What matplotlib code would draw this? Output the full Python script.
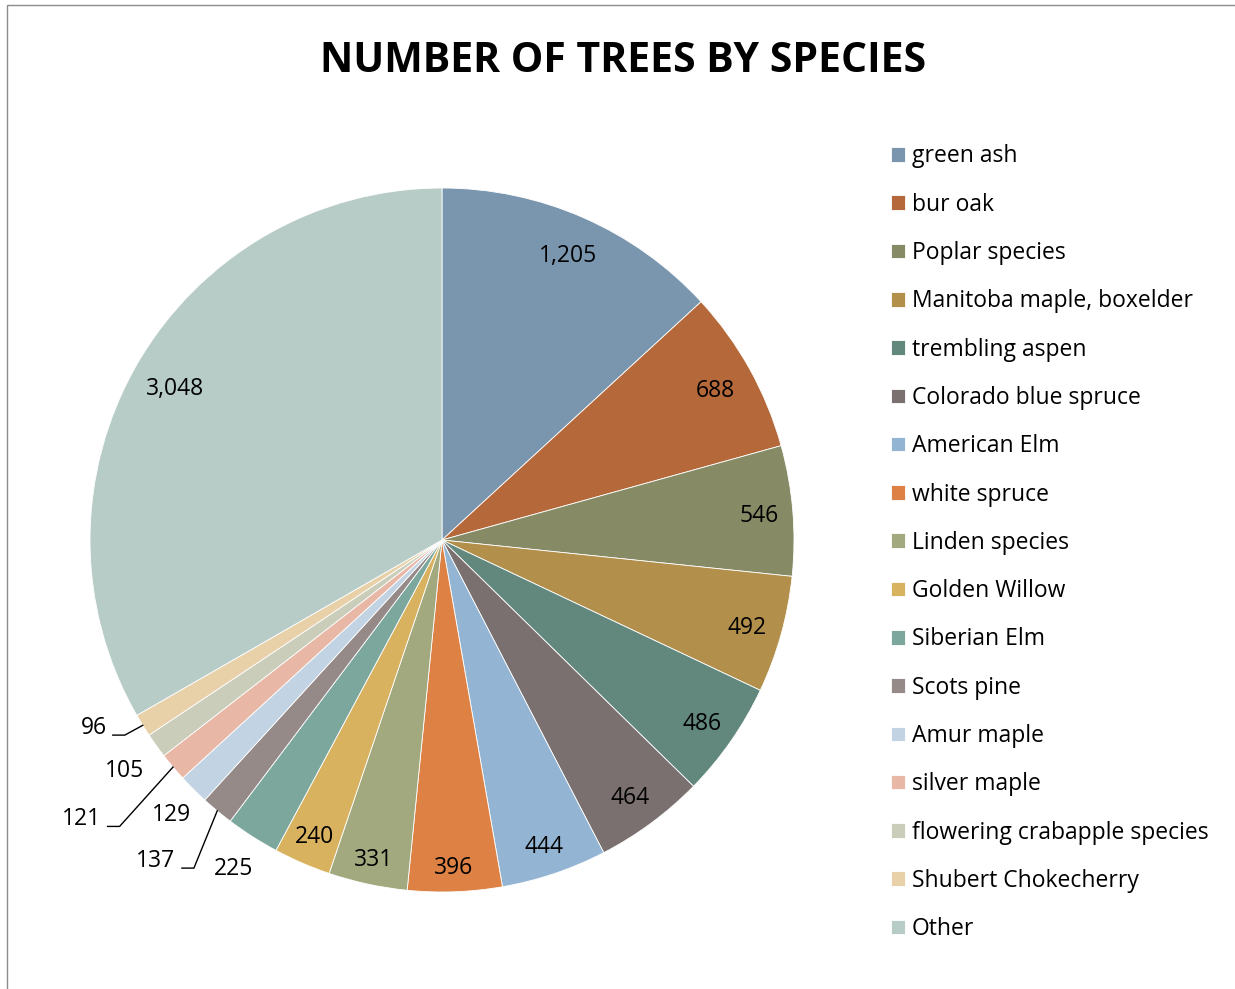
import numpy as np
import matplotlib
matplotlib.use("Agg")
import matplotlib.pyplot as plt
from matplotlib.patches import Rectangle
from matplotlib.transforms import offset_copy

plt.rcParams['font.family'] = ['Open Sans', 'DejaVu Sans']

# data
species = ["green ash", "bur oak", "Poplar species", "Manitoba maple, boxelder",
           "trembling aspen", "Colorado blue spruce", "American Elm", "white spruce",
           "Linden species", "Golden Willow", "Siberian Elm", "Scots pine",
           "Amur maple", "silver maple", "flowering crabapple species",
           "Shubert Chokecherry", "Other"]
counts = [1205, 688, 546, 492, 486, 464, 444, 396, 331, 240, 225, 137,
          129, 121, 105, 96, 3048]
colors = ["#7A96AE", "#B5693A", "#868B65", "#B28F4B", "#62887E", "#7B7070",
          "#93B5D3", "#DD8145", "#A3A97F", "#D8B25E", "#7BA79C", "#968A89",
          "#C2D3E3", "#E8B7A6", "#CACDB9", "#E8D1A9", "#B8CCC7"]

# label placement: radius factor, angle tweak (deg), leader line
lab_r = [0.89, 0.89, 0.905, 0.9, 0.9, 0.9, 0.91, 0.925, 0.92, 0.91, 1.10, 1.215,
         1.09, 1.29, 1.11, 1.12, 0.875]
lab_da = [0, 0, 0, 0, 0, 0, 0, 0, 0, 0, 0, -2.3, 0, -2.7, 0, -3.8, 0]
leader = [False] * 10 + [False, True, False, True, False, True, False]

W, H = 1235, 989
fig = plt.figure(figsize=(W / 100, H / 100), dpi=100)
fig.patches.append(Rectangle((7 / W, -0.01), 1.1, (989 - 5) / H + 0.01,
                             transform=fig.transFigure, fill=False,
                             edgecolor="#8c8c8c", lw=1))

cx, cy, R = 442, 540, 352
ax = fig.add_axes([(cx - R) / W, (H - cy - R) / H, 2 * R / W, 2 * R / H])
wedges, _ = ax.pie(counts, colors=colors, startangle=90, counterclock=False,
                   radius=1, wedgeprops=dict(edgecolor="white", linewidth=0.6))
ax.set_xlim(-1, 1)
ax.set_ylim(-1, 1)
ax.set_aspect("equal")
ax.axis("off")

txt_tr = offset_copy(ax.transData, fig=fig, x=0, y=-3, units="dots")
for w, n, r, da, ld in zip(wedges, counts, lab_r, lab_da, leader):
    mid = np.deg2rad((w.theta1 + w.theta2) / 2)
    a = mid + np.deg2rad(da)
    tx, ty = r * np.cos(a), r * np.sin(a)
    s = f"{n:,}"
    ax.text(tx, ty, s, ha="center", va="center", fontsize=16.5,
            color="black", clip_on=False, transform=txt_tr)
    if ld:
        ex, ey = np.cos(mid), np.sin(mid)
        # leader: short horizontal right of the label, then up to the slice
        hx0 = tx + (len(s) * 7 + 5) / R
        hx1 = hx0 + 12 / R
        hy = ty - 0.029
        ax.plot([ex, hx1, hx0], [ey, hy, hy], color="black", lw=1,
                clip_on=False)

fig.text(623 / W, 1 - 61 / H, "NUMBER OF TREES BY SPECIES", ha="center",
         va="center", fontsize=29.5, fontweight="bold")

fig.legend(wedges, species, loc="upper left", bbox_to_anchor=(880 / W, 1 - 133 / H),
           frameon=False, fontsize=16.5, handlelength=0.6, handleheight=0.6,
           handletextpad=0.3, labelspacing=1.06, borderpad=0)

fig.savefig("out.png", dpi=100)
